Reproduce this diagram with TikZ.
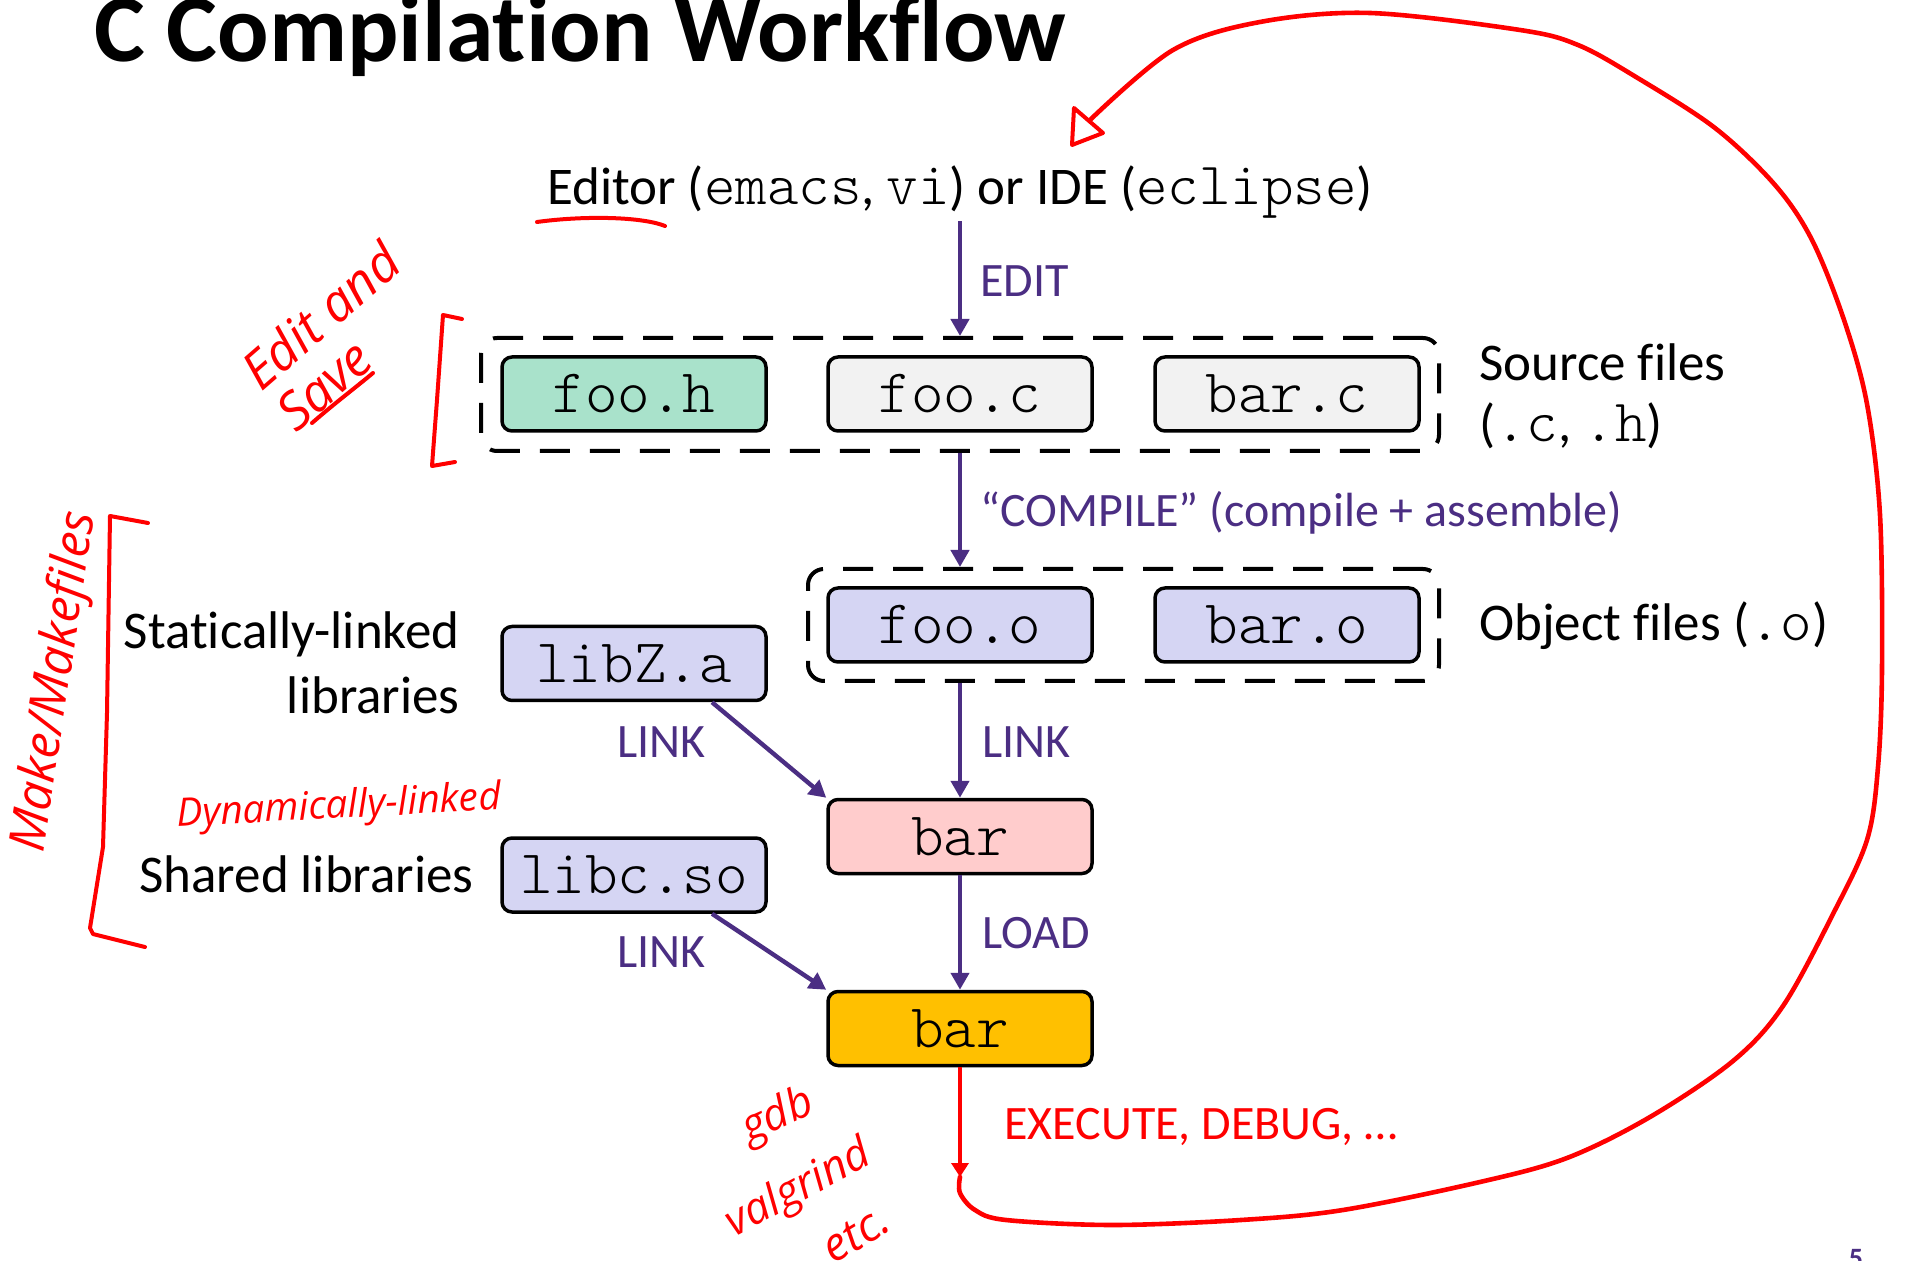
\documentclass[tikz,border=0pt]{standalone}
\usepackage{fontspec}
\setmainfont{Carlito}[Ligatures={NoCommon}]
\setmonofont{Latin Modern Mono Light}
\newfontfamily\handfont{Open Sans}
\usetikzlibrary{arrows.meta,calc}

\definecolor{uwpurple}{HTML}{4B2E83}
\definecolor{hotred}{HTML}{FF0000}
\definecolor{mintfill}{HTML}{A9E2CB}
\definecolor{greyfill}{HTML}{F2F2F2}
\definecolor{lavfill}{HTML}{D5D5F3}
\definecolor{pinkfill}{HTML}{FFCCCC}
\definecolor{goldfill}{HTML}{FFC000}

% inline code words
\newcommand\cw[1]{{\fontsize{30}{30}\selectfont\ttfamily #1}}

\begin{document}
\begin{tikzpicture}[x=0.5pt,y=-0.5pt,
  body/.style={inner sep=0pt, font=\fontsize{26.5}{32}\selectfont},
  steplabel/.style={inner sep=0pt, anchor=base west, text=uwpurple, font=\fontsize{24}{28}\selectfont},
  filebox/.style={draw=black, line width=1.75pt, rounded corners=5pt, minimum width=132pt,
    minimum height=37pt, inner sep=0pt, font=\fontsize{31}{31}\selectfont\ttfamily},
  groupbox/.style={draw=black, line width=2pt, rounded corners=8pt, dash pattern=on 15pt off 10pt, inner sep=0pt},
  flow/.style={draw=uwpurple, line width=2.2pt, -{Triangle[length=8.5pt,width=9pt]}},
  exec/.style={draw=hotred, line width=2.2pt, -{Triangle[length=7pt,width=8.5pt]}},
  ink/.style={draw=hotred, line width=2pt, line cap=round, line join=round},
  scrawl/.style={text=hotred, inner sep=0pt, font=\handfont\itshape\fontsize{#1}{#1}\selectfont},
]
\useasboundingbox (0,0) rectangle (1907,1261);

% title
\node[anchor=base west, inner sep=0pt, font=\fontsize{48}{52}\selectfont\bfseries] (title) at (94,62) {C Compilation Workflow};

% editor
\node[body, anchor=base, inner sep=1pt] (editor) at (960,205) {Editor (\cw{emacs}, \cw{vi}) or IDE (\cw{eclipse})};

% source files
\node[groupbox, minimum width=479pt, minimum height=56.5pt] (src) at (960,394.5) {};
\node[filebox, fill=mintfill] (fooh) at (634,394) {foo.h};
\node[filebox, fill=greyfill] (fooc) at (960,394) {foo.c};
\node[filebox, fill=greyfill] (barc) at (1287,394) {bar.c};
\node[body, anchor=base west] (srclabel) at (1479,381) {Source files};
\node[body, anchor=base west] (srcext) at (1479,442) {(\cw{.c}, \cw{.h})};

% object files
\node[groupbox, minimum width=315.5pt, minimum height=56pt] (obj) at (1123.5,625) {};
\node[filebox, fill=lavfill] (fooo) at (960,625) {foo.o};
\node[filebox, fill=lavfill] (baro) at (1287,625) {bar.o};
\node[body, anchor=base west] (objlabel) at (1479,641) {Object files (\cw{.o})};

% libraries
\node[filebox, fill=lavfill] (libz) at (634,663.5) {libZ.a};
\node[filebox, fill=lavfill] (libc) at (634,875) {libc.so};
\node[body, anchor=base east] (statlabel) at (460,649) {Statically-linked};
\node[body, anchor=base east] (statlabelb) at (460,713) {libraries};
\node[body, anchor=base east] (sharedlabel) at (474,892) {Shared libraries};

% executables
\node[filebox, fill=pinkfill] (barlink) at (960,836.5) {bar};
\node[filebox, fill=goldfill] (barexe) at (960,1028.5) {bar};

% connectors
\draw[flow] (editor.south) -- (editor.south |- src.north);
\draw[flow] (src.south -| fooo) -- (obj.north -| fooo);
\draw[flow] (obj.south -| barlink) -- (barlink.north);
\draw[flow] (barlink) -- (barexe);
\draw[flow] ([xshift=39pt]libz.south) -- (barlink.north west);
\draw[flow] ([xshift=39pt]libc.south) -- (barexe.north west);

\node[steplabel] (editlbl) at (980,297) {EDIT};
\node[steplabel] (compilelbl) at (980,527) {“COMPILE” (compile + assemble)};
\node[steplabel] (linklbl) at (982,757) {LINK};
\node[steplabel] (loadlbl) at (982,948) {LOAD};
\node[steplabel] (linkz) at (617,757) {LINK};
\node[steplabel] (linkc) at (617,967) {LINK};

% execute and the loop back to the editor
\coordinate (execend) at (960,1177);
\draw[exec] (barexe.south) -- (execend);
\node[steplabel, text=hotred] (execlbl) at (1004,1139) {EXECUTE, DEBUG, …};

\draw[ink, line width=2.3pt] plot[smooth, tension=0.55] coordinates {
  (execend) (960,1193) (975,1210) (1006,1220) (1113,1225) (1241,1220) (1343,1210)
  (1480,1182) (1567,1158) (1650,1117) (1733,1061) (1783,1006) (1833,914)
  (1867,840) (1878,767) (1882,668) (1880,515) (1867,404) (1844,320)
  (1812,240) (1775,185) (1715,128) (1636,77) (1578,45) (1520,30)
  (1370,13) (1260,22) (1173,50) (1090,120)};
\draw[ink] (1074,108) -- (1103,133) -- (1072,145) -- cycle;

% annotations
\draw[ink] (537,222) .. controls (580,216) and (640,216) .. (665,226);
\draw[ink] (462,319) -- (443,315) -- (437,400) -- (432,466) -- (455,462);
\draw[ink] (148,523) -- (110,516) -- (107,713) -- (103,847) -- (90,928) -- (93,934) -- (145,947);
\draw[ink] (312,423) .. controls (335,403) and (355,388) .. (373,373);

\node[scrawl=26, rotate=41, align=left, font=\handfont\itshape\fontsize{26}{27}\selectfont] (editsave) at (338,336) {Edit and\\Save};
\node[scrawl=25, rotate=81.5] (makenote) at (56,682) {Make/Makefiles};
\node[scrawl=19.5, rotate=3] (dynnote) at (339,808) {Dynamically-linked};
\node[scrawl=22, rotate=24] (gdbnote) at (778,1117) {gdb};
\node[scrawl=22, rotate=28] (valnote) at (799,1190) {valgrind};
\node[scrawl=23, rotate=31] (etcnote) at (856,1234) {etc.};

% page number
\node[anchor=north, inner sep=0pt, text=uwpurple, font=\fontsize{14}{14}\selectfont\bfseries] (pagenum) at (1856,1249) {5};
\end{tikzpicture}
\end{document}
